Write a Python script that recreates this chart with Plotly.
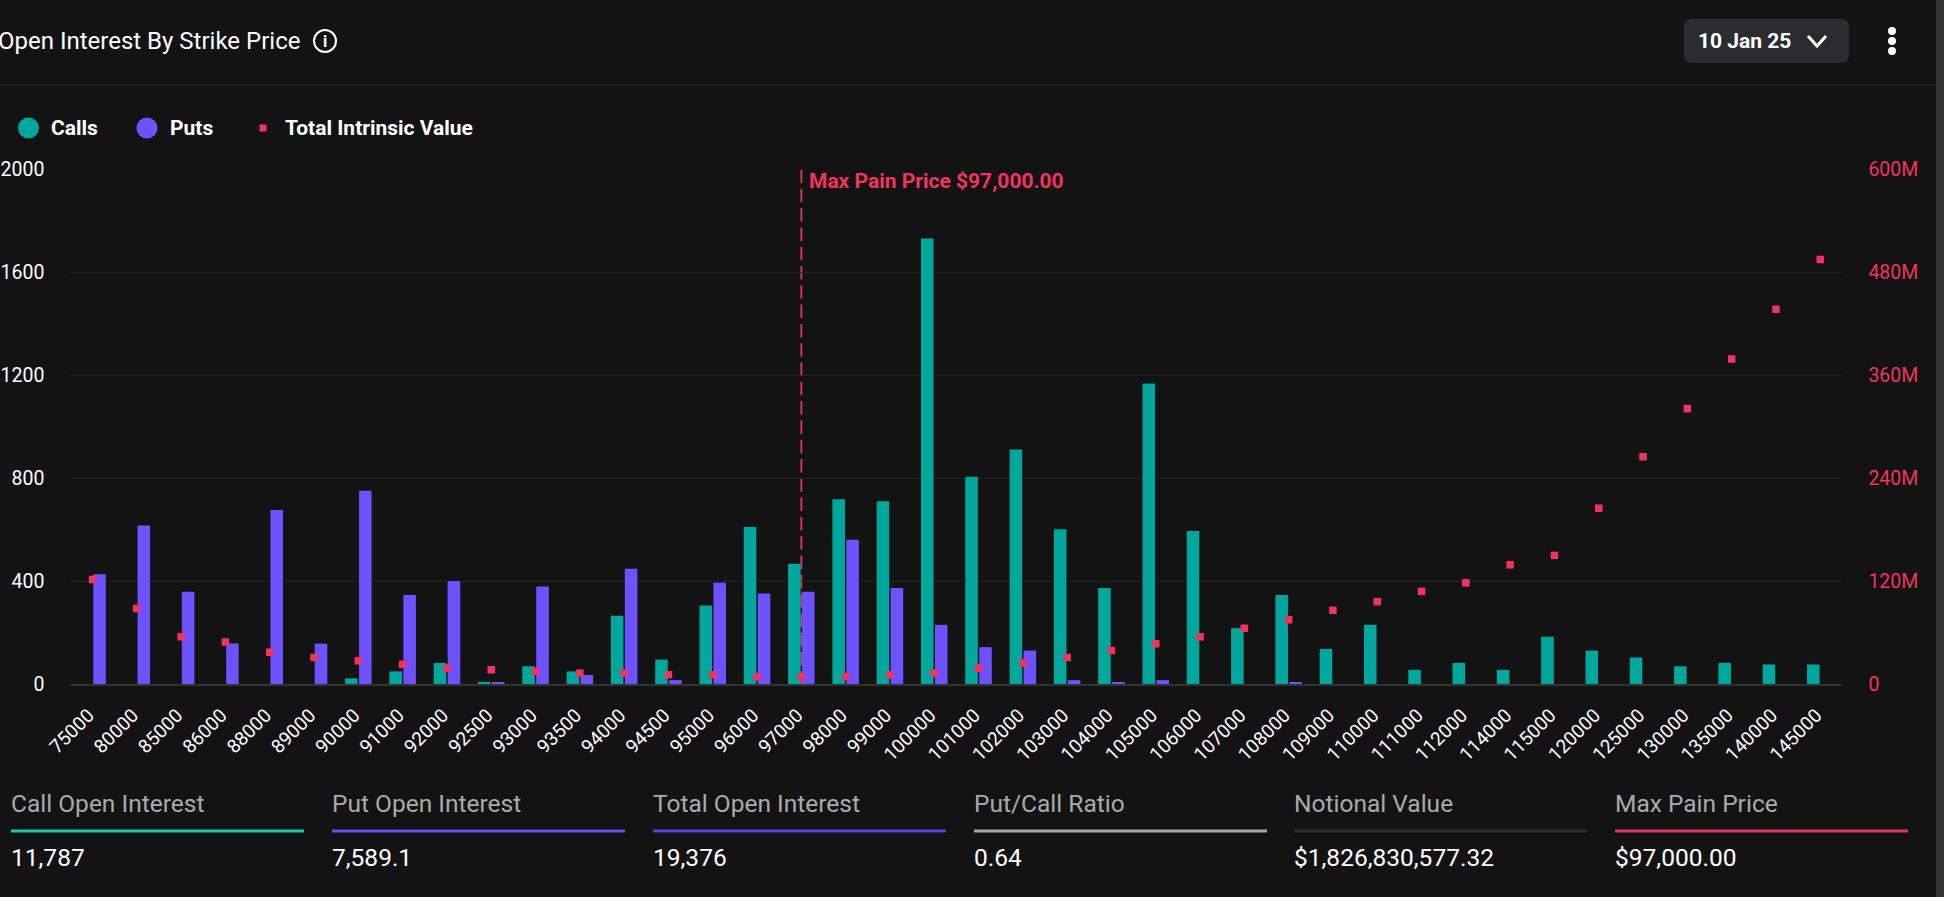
import plotly.graph_objects as go

strikes = ["75000","80000","85000","86000","88000","89000","90000","91000","92000","92500",
           "93000","93500","94000","94500","95000","96000","97000","98000","99000","100000",
           "101000","102000","103000","104000","105000","106000","107000","108000","109000","110000",
           "111000","112000","114000","115000","120000","125000","130000","135000","140000","145000"]
calls = [0,0,0,0,0,0,22,49,82,8,
         69,49,265,95,305,610,467,718,710,1732,
         806,912,602,373,1168,595,217,346,136,230,
         55,82,55,184,130,103,69,82,76,76]
puts = [427,616,359,157,676,157,751,346,400,8,
        379,35,448,15,394,352,359,561,373,230,
        143,130,15,8,15,0,0,8,0,0,
        0,0,0,0,0,0,0,0,0,0]
intrinsic_m = [122,88,55,49,37,31,27,23,18.5,16.6,
               14.7,12.7,12.7,10.8,10.8,8.5,8.5,8.5,10.8,12.7,
               18.5,24.7,31,39,47,55,65,75,86,96,
               108,118,139,150,205,265,321,379,437,495]
max_pain_strike = "97000"
left_ticks = [0,400,800,1200,1600,2000]
right_ticks = [0,120,240,360,480,600]
right_labels = ["0","120M","240M","360M","480M","600M"]
footer_labels = ["Call Open Interest","Put Open Interest","Total Open Interest","Put/Call Ratio","Notional Value","Max Pain Price"]
footer_values = ["11,787","7,589.1","19,376","0.64","$1,826,830,577.32","$97,000.00"]
footer_colors = ["#1cc4ae","#6a4fe6","#5a3fd6","#a3a5a6","#2e2e2e","#d93a5e"]
footer_x = [(11,304),(332,625),(653,946),(974,1267),(1294,1587),(1615,1908)]

W, H = 1944, 897
BG = "#131313"; TEAL = "#00a79d"; PURPLE = "#6e51ff"; PINK = "#f0335f"
FONT = "Roboto"
PL, PR, PT, PB = 70.4, 1842.4, 169.5, 684

def px(x): return x / W
def py(y): return 1 - y / H

fig = go.Figure()
fig.add_trace(go.Bar(x=strikes, y=calls, name="Calls", marker=dict(color=TEAL, line_width=0)))
fig.add_trace(go.Bar(x=strikes, y=puts, name="Puts", marker=dict(color=PURPLE, line_width=0)))
fig.add_trace(go.Scatter(x=strikes, y=intrinsic_m, name="Total Intrinsic Value", mode="markers", yaxis="y2",
                         marker=dict(symbol="square", size=7.5, color=PINK, line_width=0)))

shapes = []
annos = []

def text(x, y, s, size, color="#ffffff", weight=400, anchor="left"):
    annos.append(dict(xref="paper", yref="paper", x=px(x), y=py(y), text=s, showarrow=False, xanchor=anchor,
                      yanchor="middle", borderpad=0, borderwidth=0, font=dict(family=FONT, size=size, color=color, weight=weight)))

def rect(x0, y0, x1, y1, color):
    shapes.append(dict(type="rect", xref="paper", yref="paper", x0=px(x0), x1=px(x1), y0=py(y0), y1=py(y1),
                       fillcolor=color, line_width=0, layer="below"))

def circle(cx, cy, r, fill, line=None, lw=0):
    shapes.append(dict(type="circle", xref="paper", yref="paper", x0=px(cx-r), x1=px(cx+r), y0=py(cy-r), y1=py(cy+r),
                       fillcolor=fill, line=dict(color=line or fill, width=lw), layer="above"))

# window edge on the right
rect(1936, 0, 1944, 897, "#333333")
# header
text(-2, 41, "Open Interest By Strike Price", 24, weight=400)
circle(325, 41, 11, "rgba(0,0,0,0)", "#ffffff", 2)
text(325, 41, "i", 16, weight=700, anchor="center")
rect(0, 84.5, 1936, 85.5, "#262626")
# date selector
shapes.append(dict(type="path", xref="paper", yref="paper", layer="below", fillcolor="#2b2c2e", line_width=0,
    path="M {} {} L {} {} Q {} {} {} {} L {} {} Q {} {} {} {} L {} {} Q {} {} {} {} L {} {} Q {} {} {} {} Z".format(
        px(1692), py(19), px(1841), py(19), px(1849), py(19), px(1849), py(27),
        px(1849), py(55), px(1849), py(63), px(1841), py(63),
        px(1692), py(63), px(1684), py(63), px(1684), py(55),
        px(1684), py(27), px(1684), py(19), px(1692), py(19))))
text(1698, 41, "10 Jan 25", 21, weight=700)
shapes.append(dict(type="path", xref="paper", yref="paper", layer="above", line=dict(color="#ffffff", width=3),
    path="M {} {} L {} {} L {} {}".format(px(1808), py(36), px(1817), py(46), px(1826), py(36))))
for cy in (31, 41, 51):
    circle(1892, cy, 4, "#ffffff")
# legend
circle(28.5, 128, 10.5, TEAL)
text(51, 128, "Calls", 21, weight=700)
circle(147, 128, 10.5, PURPLE)
text(170, 128, "Puts", 21, weight=700)
rect(259.5, 124.5, 266.5, 131.5, PINK)
text(285, 128, "Total Intrinsic Value", 21, weight=700)
# max pain marker (category axes take the category's position)
max_pain_pos = strikes.index(max_pain_strike)
shapes.append(dict(type="line", xref="x", yref="y", x0=max_pain_pos, x1=max_pain_pos, y0=2000, y1=0,
                   line=dict(color="#e8345f", width=1.8, dash="13.5px,5.8px"), layer="below"))
text(809, 181, "Max Pain Price $97,000.00", 21, color=PINK, weight=700)
# footer
for lab, val, col, (a, b) in zip(footer_labels, footer_values, footer_colors, footer_x):
    text(a, 803, lab, 24.5, color="#a9abac")
    rect(a, 829.5, b, 832.5, col)
    text(a, 857, val, 24.5)

fig.update_layout(
    width=W, height=H, autosize=False, margin=dict(l=0, r=0, t=0, b=0, pad=0),
    paper_bgcolor=BG, plot_bgcolor=BG, showlegend=False, barmode="group",
    bargap=0.37, bargroupgap=0.1, shapes=shapes, annotations=annos,
    font=dict(family=FONT, color="#ffffff"),
    xaxis=dict(type="category", domain=[px(PL), px(PR)], anchor="y", tickangle=-45, ticks="",
               categoryorder="array", categoryarray=strikes, tickmode="array", tickvals=strikes, ticktext=strikes,
               tickfont=dict(family=FONT, size=19, color="#ffffff"), ticklabelstandoff=11, ticklabelshift=-4,
               showgrid=False, showline=True, linecolor="#333333", linewidth=1.5, zeroline=False,
               range=[-0.5, len(strikes)-0.5], automargin=False),
    yaxis=dict(domain=[py(PB), py(PT)], range=[0, 2000], tickmode="array", tickvals=left_ticks,
               tickfont=dict(family=FONT, size=19.5, color="#ffffff"), ticks="", ticklabelstandoff=25,
               gridcolor="#232323", gridwidth=1, zeroline=False, showline=False, automargin=False),
    yaxis2=dict(domain=[py(PB), py(PT)], range=[0, 600], overlaying="y", side="right", anchor="x",
                tickmode="array", tickvals=right_ticks, ticktext=right_labels,
                tickfont=dict(family=FONT, size=19.5, color=PINK), ticks="", ticklabelstandoff=25,
                showgrid=False, zeroline=False, showline=False, automargin=False),
)

fig.write_html("out.html", config=dict(displayModeBar=False),
               post_script="document.body.style.margin='0';document.body.style.background='#131313';document.body.style.overflow='hidden';")
